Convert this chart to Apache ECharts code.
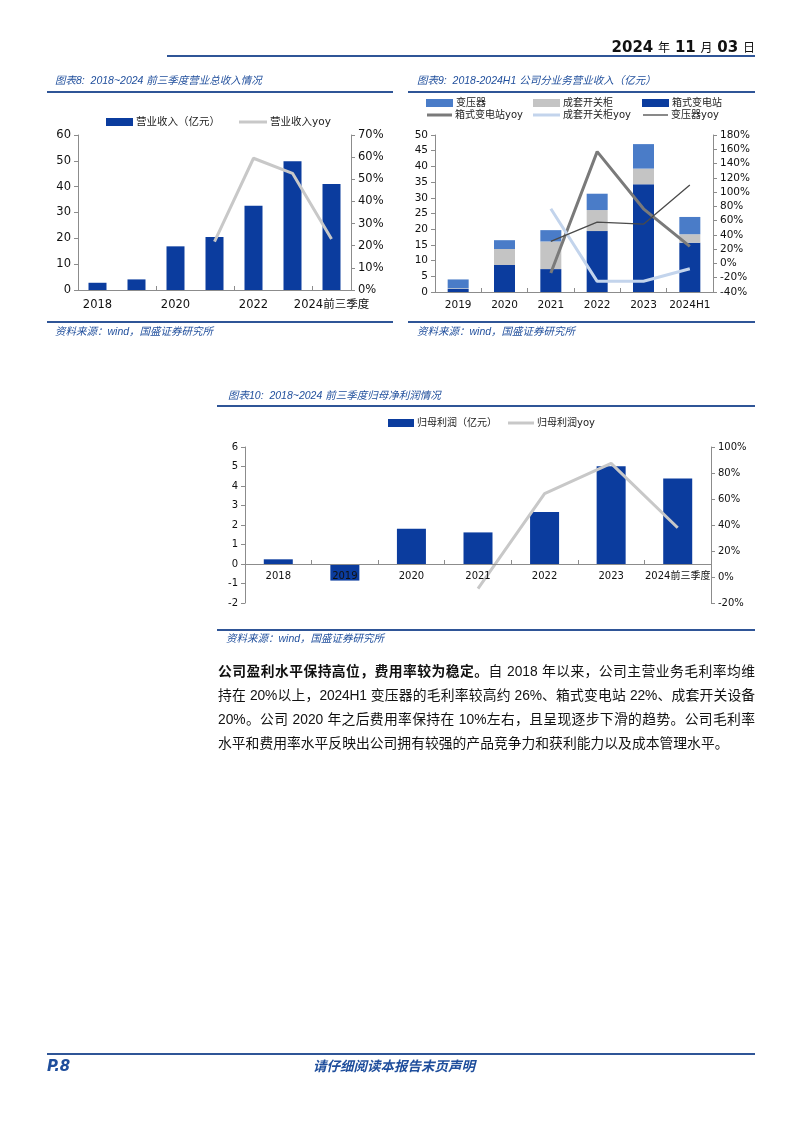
<!DOCTYPE html>
<html><head><meta charset="utf-8">
<script src="https://cdn.jsdelivr.net/npm/echarts@6/dist/echarts.min.js"></script>
<style>
body{margin:0;background:#fff;}
#page{position:relative;width:802px;height:1133px;overflow:hidden;background:#fff;font-family:"DejaVu Sans","Noto Sans CJK SC",sans-serif;}
.hl{position:absolute;height:0;border-top:2px solid #2f5597;}
.t{position:absolute;white-space:nowrap;}
.cap{font-style:italic;color:#1f4e9c;font-size:10.5px;line-height:14px;font-family:"Liberation Sans","Noto Sans CJK SC",sans-serif;}
.src{font-style:italic;color:#1f4e9c;font-size:10.5px;line-height:14px;font-family:"Liberation Sans","Noto Sans CJK SC",sans-serif;}
.para{position:absolute;left:218px;width:537px;font-size:13.8px;line-height:24px;color:#111;font-family:"Liberation Sans","Noto Sans CJK SC",sans-serif;white-space:nowrap;}
.j{text-align:justify;text-align-last:justify;}
#chart{position:absolute;left:0;top:0;width:802px;height:1133px;}
</style></head>
<body><div id="page">
<div id="chart"></div>
<div class="t" style="right:47px;top:38px;font-size:15px;line-height:18px;color:#111;"><b>2024</b> <span style="font-size:12px">年</span> <b>11</b> <span style="font-size:12px">月</span> <b>03</b> <span style="font-size:12px">日</span></div>
<div class="hl" style="left:167px;width:588px;top:55px;border-top-width:2px;"></div>

<div class="t cap" style="left:55px;top:73px;">图表8:&nbsp; 2018~2024 前三季度营业总收入情况</div>
<div class="hl" style="left:47px;width:346px;top:91px;"></div>
<div class="hl" style="left:47px;width:346px;top:321px;"></div>
<div class="t src" style="left:55px;top:324px;">资料来源：wind，国盛证券研究所</div>

<div class="t cap" style="left:417px;top:73px;">图表9:&nbsp; 2018-2024H1 公司分业务营业收入（亿元）</div>
<div class="hl" style="left:408px;width:347px;top:91px;"></div>
<div class="hl" style="left:408px;width:347px;top:321px;"></div>
<div class="t src" style="left:417px;top:324px;">资料来源：wind，国盛证券研究所</div>

<div class="t cap" style="left:228px;top:388px;">图表10:&nbsp; 2018~2024 前三季度归母净利润情况</div>
<div class="hl" style="left:217px;width:538px;top:405px;"></div>
<div class="hl" style="left:217px;width:538px;top:629px;"></div>
<div class="t src" style="left:226px;top:631px;">资料来源：wind，国盛证券研究所</div>

<div class="para j" style="top:660px;"><b>公司盈利水平保持高位，费用率较为稳定。</b>自 2018 年以来，公司主营业务毛利率均维</div>
<div class="para j" style="top:684px;letter-spacing:-0.15px;">持在 20%以上，2024H1 变压器的毛利率较高约 26%、箱式变电站 22%、成套开关设备</div>
<div class="para j" style="top:708px;">20%。公司 2020 年之后费用率保持在 10%左右，且呈现逐步下滑的趋势。公司毛利率</div>
<div class="para" style="top:732px;">水平和费用率水平反映出公司拥有较强的产品竞争力和获利能力以及成本管理水平。</div>

<div class="hl" style="left:47px;width:708px;top:1053px;"></div>
<div class="t" style="left:47px;top:1057px;font-size:15px;line-height:18px;font-weight:bold;font-style:italic;color:#1f4e9c;">P.8</div>
<div class="t" style="left:313px;top:1058px;font-size:13.5px;line-height:16px;font-weight:bold;font-style:italic;color:#1f4e9c;">请仔细阅读本报告末页声明</div>
</div>
<script>
// ---- Chart 8 data ----
const years8 = ['2018','2019','2020','2021','2022','2023','2024前三季度'];
const revenue8 = [2.8, 4.1, 16.9, 20.5, 32.6, 49.8, 41.0];
const revenueYoy8 = [null, null, null, 21.8, 59.5, 52.7, 23.0];
const leftTicks8 = {min: 0, max: 60, interval: 10};
const rightTicks8 = {min: 0, max: 70, interval: 10};

// ---- Chart 9 data ----
const years9 = ['2019','2020','2021','2022','2023','2024H1'];
const boxSub9 = [1.0, 8.6, 7.3, 19.4, 34.3, 15.7];
const switchgear9 = [0.2, 5.1, 8.8, 6.7, 5.0, 2.7];
const transformer9 = [2.8, 2.8, 3.6, 5.2, 7.8, 5.5];
const boxSubYoy9 = [null, null, -13.4, 156.7, 76.6, 23.9];
const switchgearYoy9 = [null, null, 76.6, -25.1, -25.0, -7.4];
const transformerYoy9 = [null, null, 30.9, 57.9, 55.1, 110.1];
const leftTicks9 = {min: 0, max: 50, interval: 5};
const rightTicks9 = {min: -40, max: 180, interval: 20};

// ---- Chart 10 data ----
const years10 = ['2018','2019','2020','2021','2022','2023','2024前三季度'];
const profit10 = [0.24, -0.85, 1.81, 1.62, 2.67, 5.01, 4.39];
const profitYoy10 = [null, null, null, -9.0, 64.1, 87.4, 37.9];
const leftTicks10 = {min: -2, max: 6, interval: 1};
const rightTicks10 = {min: -20, max: 100, interval: 20};

const DARK = '#0b3c9e', MID = '#4a7cc8', GRAY = '#c8c8c8';
const AX = '#8c8c8c';
const FF = '"DejaVu Sans","Noto Sans CJK SC",sans-serif';

function xAx(grid, data, fs, extra) {
  return Object.assign({
    type: 'category', gridIndex: grid, data: data,
    axisLine: {onZero: false, lineStyle: {color: AX, width: 1}},
    axisTick: {show: true, inside: true, length: 4, lineStyle: {color: AX}},
    axisLabel: {color: '#111', fontSize: fs, fontFamily: FF, margin: 8, interval: 0}
  }, extra || {});
}
function yAx(grid, t, pos, fs, pct) {
  return {
    type: 'value', gridIndex: grid, position: pos, min: t.min, max: t.max, interval: t.interval,
    axisLine: {show: true, lineStyle: {color: AX, width: 1}},
    axisTick: {show: true, length: 4, lineStyle: {color: AX}},
    splitLine: {show: false},
    axisLabel: {color: '#111', fontSize: fs, fontFamily: FF, margin: 7,
      formatter: pct ? '{value}%' : '{value}'}
  };
}
function leg(name, left, cy, w, h, fs, isLine) {
  return {
    data: [{name: name, icon: 'rect'}], left: left, top: cy - 7, padding: 0,
    itemWidth: w, itemHeight: isLine ? h : 8, itemGap: 0,
    textStyle: {color: '#222', fontSize: fs, fontFamily: FF, lineHeight: 14, padding: [0, 0, 0, -2]},
    selectedMode: false
  };
}

const option = {
  animation: false,
  grid: [
    {left: 78, top: 135, width: 273, height: 155},
    {left: 435, top: 135, width: 278, height: 157},
    {left: 245, top: 447, width: 466, height: 156}
  ],
  legend: [
    leg('营业收入（亿元）', 106, 122, 27, 8, 10.5),
    leg('营业收入yoy', 239, 122, 28, 3, 10.5, true),
    leg('变压器', 426, 103, 27, 8, 10),
    leg('成套开关柜', 533, 103, 27, 8, 10),
    leg('箱式变电站', 642, 103, 27, 8, 10),
    leg('箱式变电站yoy', 427, 115, 25, 3, 10, true),
    leg('成套开关柜yoy', 533, 115, 27, 3, 10, true),
    leg('变压器yoy', 643, 115, 25, 1.3, 10, true),
    leg('归母利润（亿元）', 388, 423, 26, 8, 10),
    leg('归母利润yoy', 508, 423, 26, 3, 10, true)
  ],
  xAxis: [
    xAx(0, years8, 11.5, {axisLabel: {color: '#111', fontSize: 11.5, fontFamily: FF, margin: 9, interval: 1}}),
    xAx(1, years9, 10.5),
    xAx(2, years10, 10, {offset: -39, z: 5,
      axisLabel: {color: '#111', fontSize: 10, fontFamily: FF, margin: 7, interval: 0}})
  ],
  yAxis: [
    yAx(0, leftTicks8, 'left', 11.5, false),
    yAx(0, rightTicks8, 'right', 11.5, true),
    yAx(1, leftTicks9, 'left', 10.5, false),
    yAx(1, rightTicks9, 'right', 10.5, true),
    yAx(2, leftTicks10, 'left', 10, false),
    yAx(2, rightTicks10, 'right', 10, true)
  ],
  series: [
    {name: '营业收入（亿元）', type: 'bar', xAxisIndex: 0, yAxisIndex: 0, data: revenue8, barWidth: 18, itemStyle: {color: DARK}},
    {name: '营业收入yoy', type: 'line', xAxisIndex: 0, yAxisIndex: 1, data: revenueYoy8, symbol: 'none',
      lineStyle: {color: GRAY, width: 3}, itemStyle: {color: GRAY}},

    {name: '箱式变电站', type: 'bar', stack: 'biz', xAxisIndex: 1, yAxisIndex: 2, data: boxSub9, barWidth: 21, itemStyle: {color: DARK}},
    {name: '成套开关柜', type: 'bar', stack: 'biz', xAxisIndex: 1, yAxisIndex: 2, data: switchgear9, barWidth: 21, itemStyle: {color: '#c4c4c4'}},
    {name: '变压器', type: 'bar', stack: 'biz', xAxisIndex: 1, yAxisIndex: 2, data: transformer9, barWidth: 21, itemStyle: {color: MID}},
    {name: '箱式变电站yoy', type: 'line', xAxisIndex: 1, yAxisIndex: 3, data: boxSubYoy9, symbol: 'none',
      lineStyle: {color: '#7a7a7a', width: 3}, itemStyle: {color: '#7a7a7a'}},
    {name: '成套开关柜yoy', type: 'line', xAxisIndex: 1, yAxisIndex: 3, data: switchgearYoy9, symbol: 'none',
      lineStyle: {color: '#c3d4ec', width: 3}, itemStyle: {color: '#c3d4ec'}},
    {name: '变压器yoy', type: 'line', xAxisIndex: 1, yAxisIndex: 3, data: transformerYoy9, symbol: 'none',
      lineStyle: {color: '#4a4a4a', width: 1.3}, itemStyle: {color: '#4a4a4a'}},

    {name: '归母利润（亿元）', type: 'bar', xAxisIndex: 2, yAxisIndex: 4, data: profit10, barWidth: 29, itemStyle: {color: DARK}},
    {name: '归母利润yoy', type: 'line', xAxisIndex: 2, yAxisIndex: 5, data: profitYoy10, symbol: 'none',
      lineStyle: {color: GRAY, width: 3}, itemStyle: {color: GRAY}}
  ]
};
const chart = echarts.init(document.getElementById('chart'), null, {renderer: 'canvas'});
chart.setOption(option);
</script>
</body></html>
